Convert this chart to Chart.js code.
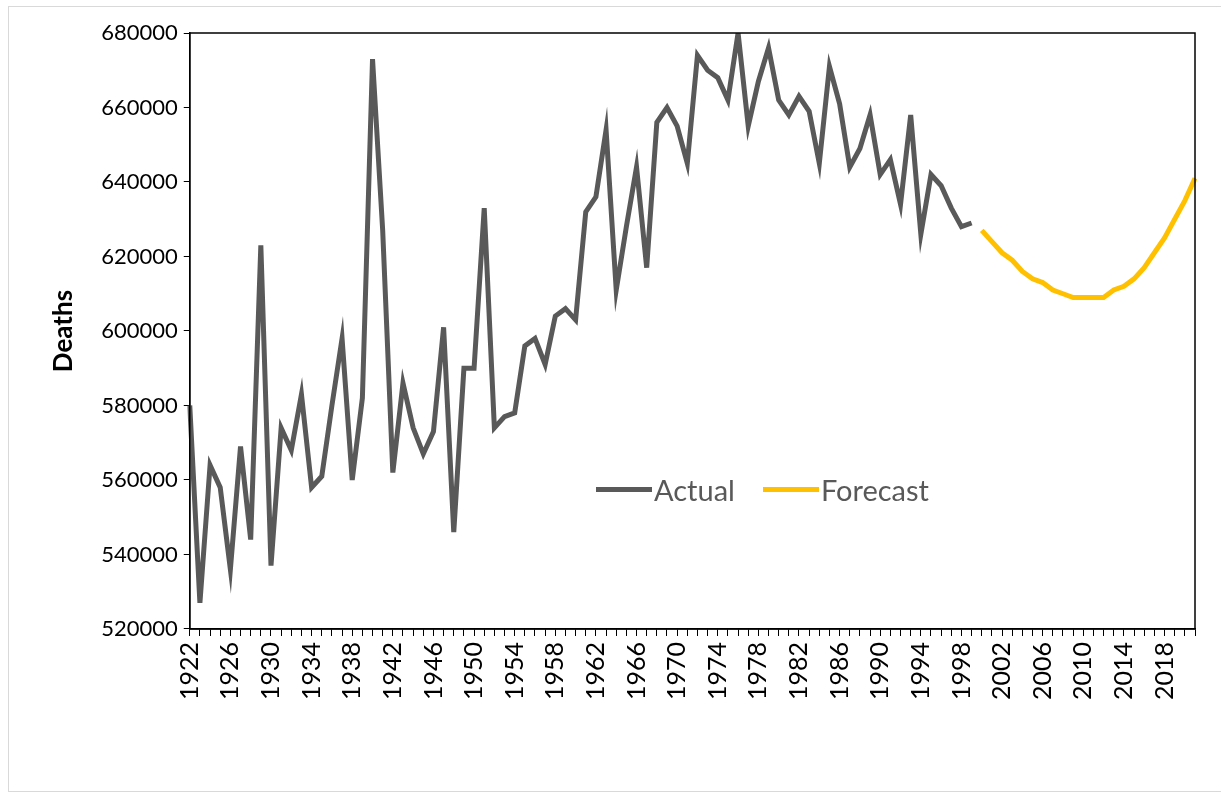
<!DOCTYPE html>
<html>
<head>
<meta charset="utf-8">
<script src="https://cdn.jsdelivr.net/npm/chart.js@4"></script>
<style>
	body { margin: 0; background: #fff; }
	#wrap { position: relative; width: 1221px; height: 794px; }
	#frame { position: absolute; left: 8px; top: 6px; right: -2px; bottom: 2px; border: 1px solid #d9d9d9; }
	#legend { position: absolute; left: 596px; top: 472px; font: 29px Lato, sans-serif; color: #595959; display: flex; align-items: center; }
	#legend span.sw { display: inline-block; width: 56px; height: 5px; margin-right: 2px; }
</style>
</head>
<body>
<div id="wrap">
	<div id="frame"></div>
	<canvas id="myChart_deaths" width="1221" height="794"></canvas>
	<div id="legend">
		<span class="sw" style="background:#595959"></span>Actual
		<span class="sw" style="background:#FFC000;margin-left:28px"></span>Forecast
	</div>
</div>
<script>
const years = [];
for (let y = 1922; y <= 2021; y++) years.push(String(y));

const actual = [580000, 527000, 564000, 558000, 536000, 569000, 544000, 623000, 537000, 574000,
	568000, 583000, 558000, 561000, 580000, 598000, 560000, 582000, 673000, 627000,
	562000, 586000, 574000, 567000, 573000, 601000, 546000, 590000, 590000, 633000,
	574000, 577000, 578000, 596000, 598000, 591000, 604000, 606000, 603000, 632000,
	636000, 654000, 611000, 628000, 644000, 617000, 656000, 660000, 655000, 645000,
	674000, 670000, 668000, 662000, 680000, 655000, 667000, 676000, 662000, 658000,
	663000, 659000, 645000, 671000, 661000, 644000, 649000, 658000, 642000, 646000,
	634000, 658000, 626000, 642000, 639000, 633000, 628000, 629000];

const forecast = [627000, 624000, 621000, 619000, 616000, 614000, 613000, 611000, 610000, 609000,
	609000, 609000, 609000, 611000, 612000, 614000, 617000, 621000, 625000, 630000, 635000, 641000];

const yTicks = [520000, 540000, 560000, 580000, 600000, 620000, 640000, 660000, 680000];

const actualData = years.map((y, i) => i < actual.length ? actual[i] : null);
const forecastData = years.map((y, i) => i >= actual.length ? forecast[i - actual.length] : null);

// frame around plot area
const boxPlugin = {
	id: 'box',
	afterDraw(chart) {
		const a = chart.chartArea, c = chart.ctx;
		c.save();
		c.strokeStyle = '#000';
		c.lineWidth = 1.5;
		c.strokeRect(a.left, a.top, a.right - a.left, a.bottom - a.top);
		c.restore();
	}
};

const ctx = document.getElementById('myChart_deaths').getContext('2d');
const myChart_deaths = new Chart(ctx, {
	type: 'line',
	data: {
		labels: years,
		datasets: [{
			label: 'Actual',
			data: actualData,
			borderColor: '#595959',
			borderWidth: 5,
			pointRadius: 0,
			tension: 0,
			fill: false,
		}, {
			label: 'Forecast',
			data: forecastData,
			borderColor: '#FFC000',
			borderWidth: 5,
			pointRadius: 0,
			tension: 0,
			fill: false,
		}]
	},
	options: {
		responsive: false,
		animation: false,
		layout: { padding: { left: 48, right: 26, top: 33, bottom: 88 } },
		scales: {
			x: {
				offset: false,
				afterFit: function (axis) {
					axis.paddingRight = 0;
				},
				grid: { display: true, drawOnChartArea: false, color: '#000', tickLength: 7 },
				border: { color: '#000', width: 1.5 },
				ticks: {
					autoSkip: false,
					maxRotation: 90,
					minRotation: 90,
					padding: 6,
					color: '#000',
					font: { family: 'Lato', size: 25 },
					callback: function (value, index) {
						return index % 4 === 0 ? years[index] : '';
					}
				}
			},
			y: {
				min: 520000,
				max: 680000,
				afterBuildTicks: function (axis) {
					axis.ticks = yTicks.map(v => ({ value: v }));
				},
				grid: { display: true, drawOnChartArea: false, color: '#000', tickLength: 6 },
				border: { color: '#000', width: 1.5 },
				title: {
					display: true,
					text: 'Deaths',
					color: '#000',
					padding: { top: 0, bottom: 16 },
					font: { family: 'Lato', size: 26, weight: 'bold' },
				},
				ticks: {
					color: '#000',
					padding: 6,
					font: { family: 'Lato', size: 22 },
					callback: function (value) { return value; }
				}
			}
		},
		plugins: {
			legend: { display: false },
			tooltip: { enabled: false },
			title: { display: false }
		}
	},
	plugins: [boxPlugin]
});
</script>
</body>
</html>
